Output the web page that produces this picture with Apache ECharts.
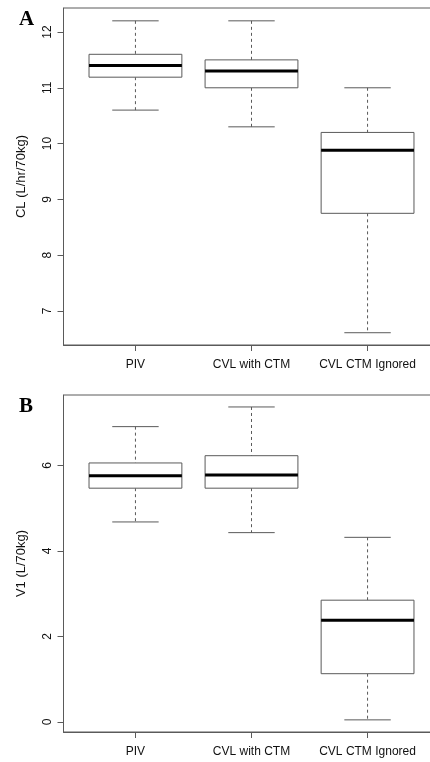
<!DOCTYPE html>
<html>
<head>
<meta charset="UTF-8">
<title>CL and V1 boxplots</title>
<script src="https://cdn.jsdelivr.net/npm/echarts@6/dist/echarts.min.js"></script>
<style>
	html, body { margin: 0; padding: 0; background: #fff; }
	#main { width: 430px; height: 762px; }
</style>
</head>
<body>
<div id="main"></div>
<script type="text/javascript">
	// groups on the x axis
	var groups = ['PIV', 'CVL with CTM', 'CVL CTM Ignored'];
	var groupPos = [1, 2, 3];

	// panel A: CL (L/hr/70kg) -> [min, Q1, median, Q3, max]
	var clPIV = [10.60, 11.19, 11.40, 11.60, 12.20];
	var clWithCTM = [10.30, 11.00, 11.30, 11.50, 12.20];
	var clIgnored = [6.61, 8.75, 9.88, 10.20, 11.00];
	var clTicks = [7, 8, 9, 10, 11, 12];

	// panel B: V1 (L/70kg)
	var v1PIV = [4.68, 5.47, 5.76, 6.06, 6.91];
	var v1WithCTM = [4.43, 5.47, 5.78, 6.23, 7.37];
	var v1Ignored = [0.05, 1.13, 2.38, 2.85, 4.32];
	var v1Ticks = [0, 2, 4, 6];

	var lineColor = '#5a5a5a';
	var font = '"Liberation Sans", Arial, sans-serif';

	function withPos(list) {
		return list.map(function (v, i) { return [groupPos[i]].concat(v); });
	}

	// R style box: dashed whiskers, solid caps, thick median
	function renderBox(params, api) {
		var x = api.value(0);
		var pMin = api.coord([x, api.value(1)]);
		var pQ1 = api.coord([x, api.value(2)]);
		var pMed = api.coord([x, api.value(3)]);
		var pQ3 = api.coord([x, api.value(4)]);
		var pMax = api.coord([x, api.value(5)]);
		var half = api.size([0.8, 0])[0] / 2;
		var cap = api.size([0.4, 0])[0] / 2;
		var solid = { stroke: lineColor, lineWidth: 1, fill: null };
		var dashed = { stroke: lineColor, lineWidth: 1, lineDash: [3, 3] };
		return {
			type: 'group',
			children: [
				{ type: 'line', shape: { x1: pMax[0], y1: pMax[1], x2: pQ3[0], y2: pQ3[1] }, style: dashed },
				{ type: 'line', shape: { x1: pQ1[0], y1: pQ1[1], x2: pMin[0], y2: pMin[1] }, style: dashed },
				{ type: 'line', shape: { x1: pMax[0] - cap, y1: pMax[1], x2: pMax[0] + cap, y2: pMax[1] }, style: solid },
				{ type: 'line', shape: { x1: pMin[0] - cap, y1: pMin[1], x2: pMin[0] + cap, y2: pMin[1] }, style: solid },
				{ type: 'rect', shape: { x: pQ3[0] - half, y: pQ3[1], width: half * 2, height: pQ1[1] - pQ3[1] },
					style: { stroke: lineColor, lineWidth: 1, fill: '#fff' } },
				{ type: 'line', shape: { x1: pMed[0] - half, y1: pMed[1], x2: pMed[0] + half, y2: pMed[1] },
					style: { stroke: '#000', lineWidth: 3 } }
			]
		};
	}

	function xAxisFor(idx) {
		return {
			type: 'value', gridIndex: idx, min: 0.38, max: 3.62,
			splitLine: { show: false },
			axisLine: { show: true, onZero: false, lineStyle: { color: lineColor } },
			axisTick: { show: true, customValues: groupPos, length: 6, lineStyle: { color: lineColor } },
			axisLabel: {
				customValues: groupPos, margin: 14, color: '#111', fontFamily: font, fontSize: 12,
				formatter: function (v) { return groups[Math.round(v) - 1]; }
			}
		};
	}

	function yAxisFor(idx, name, min, max, ticks) {
		return {
			type: 'value', gridIndex: idx, min: min, max: max,
			name: name, nameLocation: 'middle', nameGap: 36,
			nameTextStyle: { color: '#111', fontFamily: font, fontSize: 13 },
			splitLine: { show: false },
			axisLine: { show: true, onZero: false, lineStyle: { color: lineColor } },
			axisTick: { show: true, customValues: ticks, length: 6, lineStyle: { color: lineColor } },
			axisLabel: { customValues: ticks, rotate: 90, margin: 10, color: '#111', fontFamily: font, fontSize: 12 }
		};
	}

	var chart = echarts.init(document.getElementById('main'));

	var option = {
		animation: false,
		backgroundColor: '#fff',
		title: [
			{ text: 'A', left: 14, top: 4, textStyle: { fontFamily: '"Liberation Serif", serif', fontWeight: 'bold', fontSize: 21, color: '#000' } },
			{ text: 'B', left: 14, top: 391, textStyle: { fontFamily: '"Liberation Serif", serif', fontWeight: 'bold', fontSize: 21, color: '#000' } }
		],
		grid: [
			{ left: 63.5, top: 8, width: 376, height: 337, outerBoundsMode: 'none', containLabel: false,
				show: true, borderColor: lineColor, borderWidth: 1 },
			{ left: 63.5, top: 395, width: 376, height: 337, outerBoundsMode: 'none', containLabel: false,
				show: true, borderColor: lineColor, borderWidth: 1 }
		],
		xAxis: [xAxisFor(0), xAxisFor(1)],
		yAxis: [
			yAxisFor(0, 'CL (L/hr/70kg)', 6.39, 12.43, clTicks),
			yAxisFor(1, 'V1 (L/70kg)', -0.234, 7.65, v1Ticks)
		],
		series: [
			{
				type: 'custom', xAxisIndex: 0, yAxisIndex: 0,
				renderItem: renderBox,
				encode: { x: 0, y: [1, 2, 3, 4, 5] },
				data: withPos([clPIV, clWithCTM, clIgnored])
			},
			{
				type: 'custom', xAxisIndex: 1, yAxisIndex: 1,
				renderItem: renderBox,
				encode: { x: 0, y: [1, 2, 3, 4, 5] },
				data: withPos([v1PIV, v1WithCTM, v1Ignored])
			}
		]
	};

	chart.setOption(option);
</script>
</body>
</html>
